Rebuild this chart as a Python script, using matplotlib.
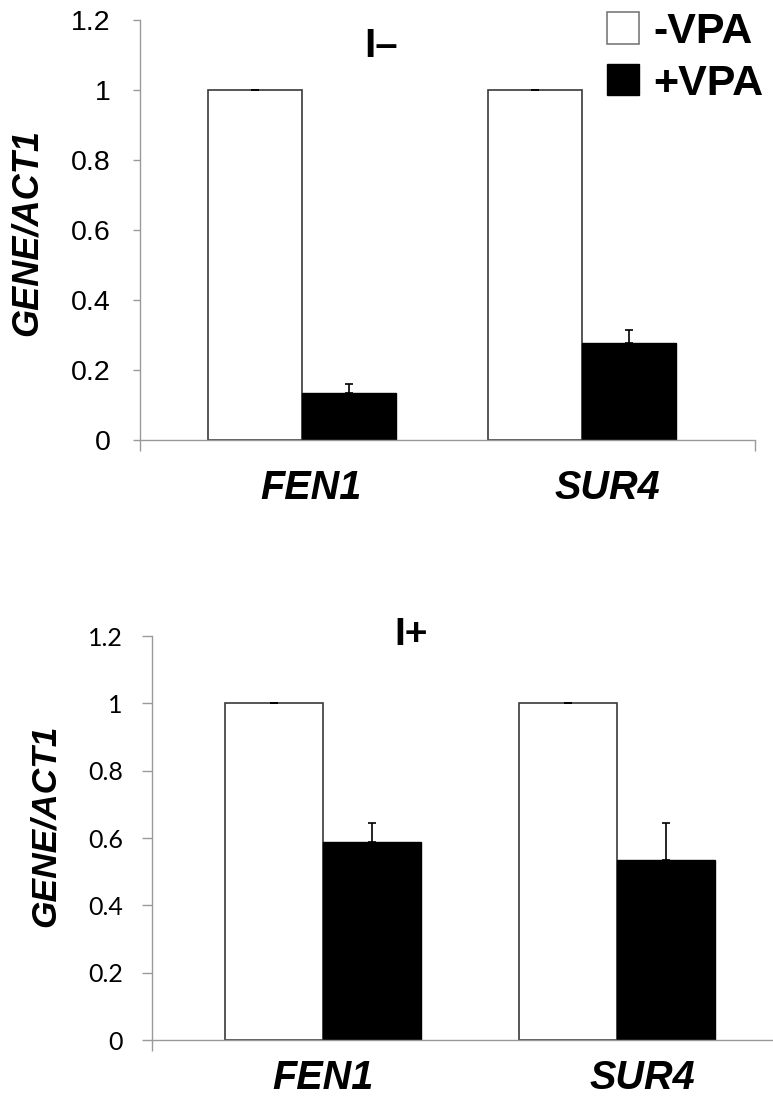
import numpy as np
import matplotlib
matplotlib.use("Agg")
import matplotlib.pyplot as plt

genes = ["FEN1", "SUR4"]

# I- panel
top_minus = [1.0, 1.0]
top_minus_err = [0.0, 0.0]
top_plus = [0.135, 0.276]
top_plus_err = [0.025, 0.038]

# I+ panel
bot_minus = [1.0, 1.0]
bot_minus_err = [0.0, 0.0]
bot_plus = [0.587, 0.536]
bot_plus_err = [0.059, 0.11]

yticks = [0, 0.2, 0.4, 0.6, 0.8, 1, 1.2]
ytick_labels = ["0", "0.2", "0.4", "0.6", "0.8", "1", "1.2"]

AXIS_GRAY = "#9a9a9a"
W = 1 / 773.
H = 1 / 1099.

def panel(ax, minus, minus_err, plus, plus_err, width, xlim, label_shift,
		tick_font, tick_size, tick_len, tick_pad, cat_pad):
	x = np.arange(len(genes))
	b1 = ax.bar(x - width / 2, minus, width, color="white", edgecolor="#3a3a3a", linewidth=1.2, label="-VPA")
	b2 = ax.bar(x + width / 2, plus, width, color="black", edgecolor="black", linewidth=1.0, label="+VPA")
	# only upper half of the error bars is shown
	ax.errorbar(x - width / 2, minus, yerr=[np.zeros(len(x)), minus_err], fmt="none",
		ecolor="black", elinewidth=1.0, capsize=2.8, capthick=1.2)
	ax.errorbar(x + width / 2, plus, yerr=[np.zeros(len(x)), plus_err], fmt="none",
		ecolor="black", elinewidth=1.2, capsize=2.8, capthick=1.2)

	ax.set_ylim(0, 1.2)
	ax.set_xlim(*xlim)
	ax.set_yticks(yticks)
	ax.set_yticklabels(ytick_labels, family=tick_font, fontsize=tick_size)
	ax.tick_params(axis="y", length=tick_len, width=1, color=AXIS_GRAY, pad=tick_pad)

	ax.set_xticks(x + np.array(label_shift))
	ax.set_xticklabels(genes, family="Liberation Sans", fontsize=28.5, fontweight="bold", style="italic")
	ax.tick_params(axis="x", which="major", length=0, pad=cat_pad)
	ax.set_xticks(list(xlim), minor=True)
	ax.tick_params(axis="x", which="minor", length=8, width=1, color=AXIS_GRAY, direction="out")

	for s in ["top", "right"]:
		ax.spines[s].set_visible(False)
	for s in ["left", "bottom"]:
		ax.spines[s].set_color(AXIS_GRAY)
		ax.spines[s].set_linewidth(1.0)
	return b1, b2


fig = plt.figure(figsize=(7.73, 10.99), dpi=100)

ax1 = fig.add_axes([140 * W, 1 - 440 * H, 615 * W, 420 * H])
h1, h2 = panel(ax1, top_minus, top_minus_err, top_plus, top_plus_err,
	width=0.336, xlim=(-0.579, 1.618), label_shift=[0.032, 0.089],
	tick_font="Liberation Sans", tick_size=20.5, tick_len=5, tick_pad=16, cat_pad=21)

ax2 = fig.add_axes([152 * W, 1 - 1040 * H, 628 * W, 404 * H])
panel(ax2, bot_minus, bot_minus_err, bot_plus, bot_plus_err,
	width=0.333, xlim=(-0.582, 1.554), label_shift=[0.0, 0.085],
	tick_font="Lato", tick_size=18, tick_len=7, tick_pad=14, cat_pad=14)

# panel titles
fig.text(381 * W, 1 - 46 * H, "I\u2013", family="Liberation Sans", fontsize=29,
	fontweight="bold", ha="center", va="center")
fig.text(411 * W, 1 - 635 * H, "I+", family="Liberation Sans", fontsize=28,
	fontweight="bold", ha="center", va="center")

# y labels
fig.text(27 * W, 1 - 233 * H, "GENE/ACT1", family="Liberation Sans", fontsize=26,
	fontweight="bold", style="italic", rotation=90, ha="center", va="center")
fig.text(45 * W, 1 - 826 * H, "GENE/ACT1", family="Liberation Sans", fontsize=25.5,
	fontweight="bold", style="italic", rotation=90, ha="center", va="center")

leg = fig.legend([h1, h2], ["-VPA", "+VPA"], loc="upper left",
	bbox_to_anchor=(607 * W, 1 - 12 * H), frameon=False, borderpad=0, borderaxespad=0,
	handlelength=0.75, handleheight=0.75, handletextpad=0.33, labelspacing=0.27,
	prop={"family": "Liberation Sans", "size": 31, "weight": "bold"})
leg.legend_handles[0].set_edgecolor("#7a7a7a")

fig.savefig("out.png", dpi=100)
